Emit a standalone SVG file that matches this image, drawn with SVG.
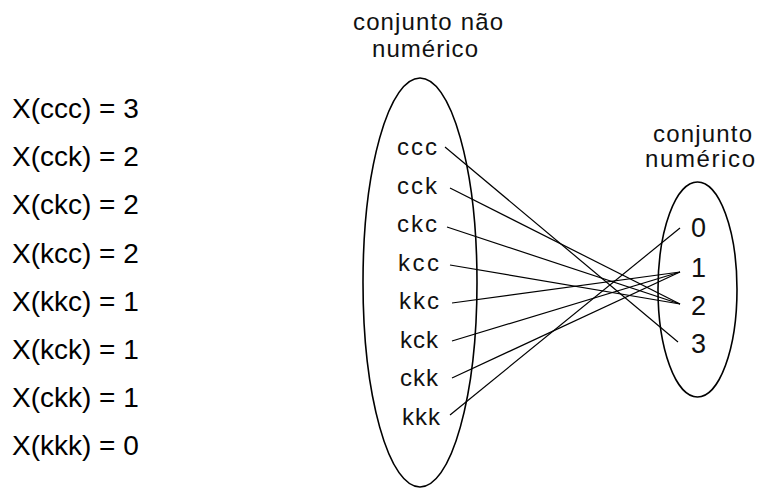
<svg xmlns="http://www.w3.org/2000/svg" width="757" height="489" viewBox="0 0 757 489">
<style>
.eq{font-family:"Liberation Sans",Arial,sans-serif;font-size:28px;fill:#000}
.lb{font-family:"Liberation Sans",Arial,sans-serif;font-size:24px;fill:#111}
.dg{font-family:"Liberation Sans",Arial,sans-serif;font-size:27px;fill:#111}
.set{fill:none;stroke:#000;stroke-width:1.6}
.con line{stroke:#000;stroke-width:1.2}
</style>
<rect width="757" height="489" fill="#fff"/>
<g id="equations">
<text class="eq" x="12" y="118">X(ccc) = 3</text>
<text class="eq" x="12" y="166.2">X(cck) = 2</text>
<text class="eq" x="12" y="214.4">X(ckc) = 2</text>
<text class="eq" x="12" y="262.6">X(kcc) = 2</text>
<text class="eq" x="12" y="310.8">X(kkc) = 1</text>
<text class="eq" x="12" y="359">X(kck) = 1</text>
<text class="eq" x="12" y="407.2">X(ckk) = 1</text>
<text class="eq" x="12" y="455.4">X(kkk) = 0</text>
</g>
<g id="set-nao-numerico">
<text class="lb" x="353" y="30" textLength="150" lengthAdjust="spacing">conjunto não</text>
<text class="lb" x="372" y="57" textLength="106" lengthAdjust="spacing">numérico</text>
<ellipse class="set" cx="420" cy="282.5" rx="57" ry="204.5"/>
</g>
<g id="n-ccc"><text class="lb" x="397" y="155" textLength="40" lengthAdjust="spacing">ccc</text></g>
<g id="n-cck"><text class="lb" x="397" y="194" textLength="40" lengthAdjust="spacing">cck</text></g>
<g id="n-ckc"><text class="lb" x="397" y="232" textLength="40" lengthAdjust="spacing">ckc</text></g>
<g id="n-kcc"><text class="lb" x="398" y="271" textLength="41" lengthAdjust="spacing">kcc</text></g>
<g id="n-kkc"><text class="lb" x="399" y="309" textLength="40" lengthAdjust="spacing">kkc</text></g>
<g id="n-kck"><text class="lb" x="400" y="348" textLength="38" lengthAdjust="spacing">kck</text></g>
<g id="n-ckk"><text class="lb" x="400" y="386" textLength="38" lengthAdjust="spacing">ckk</text></g>
<g id="n-kkk"><text class="lb" x="402" y="425" textLength="38" lengthAdjust="spacing">kkk</text></g>
<g id="set-numerico">
<text class="lb" x="653" y="142" textLength="99" lengthAdjust="spacing">conjunto</text>
<text class="lb" x="645" y="167" textLength="110" lengthAdjust="spacing">numérico</text>
<ellipse class="set" cx="697.5" cy="289.5" rx="39.5" ry="107.5"/>
</g>
<g id="n-0"><text class="dg" x="691" y="237">0</text></g>
<g id="n-1"><text class="dg" x="691" y="277">1</text></g>
<g id="n-2"><text class="dg" x="691" y="315">2</text></g>
<g id="n-3"><text class="dg" x="691" y="353">3</text></g>
<g id="connectors" class="con">
<line x1="445" y1="147" x2="678" y2="342"/>
<line x1="450" y1="188" x2="680" y2="304"/>
<line x1="447" y1="227" x2="680" y2="304"/>
<line x1="450" y1="265" x2="680" y2="304"/>
<line x1="452" y1="303" x2="680" y2="272"/>
<line x1="452" y1="341" x2="680" y2="272"/>
<line x1="452" y1="378" x2="680" y2="272"/>
<line x1="450" y1="415" x2="680" y2="228"/>
</g>
</svg>
